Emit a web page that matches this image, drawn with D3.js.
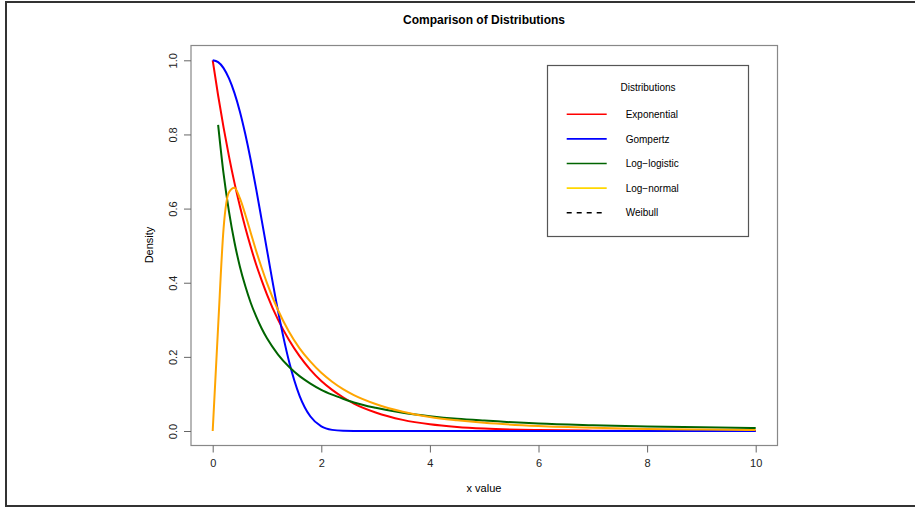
<!DOCTYPE html>
<html>
<head>
<meta charset="utf-8">
<script src="https://cdn.jsdelivr.net/npm/d3@7"></script>
<style>
  body { margin: 0; background: #fff; }
  svg { font-family: "Liberation Sans", Arial, sans-serif; }
</style>
</head>
<body>
<svg id="chart" width="915" height="507"></svg>
<script>
// x grid the densities were read at
var xValues = [0, 0.1, 0.2, 0.3, 0.4, 0.5, 0.6, 0.7, 0.8, 0.9, 1.0, 1.2, 1.4, 1.6, 1.8, 2.0, 2.2, 2.4, 2.6, 3.0, 3.5, 4, 4.5, 5, 6, 7, 8, 9, 10];

var exponential = [1, 0.905, 0.819, 0.741, 0.670, 0.607, 0.549, 0.497, 0.449, 0.407, 0.368, 0.301, 0.247, 0.202, 0.165, 0.135, 0.111, 0.091, 0.074, 0.050, 0.030, 0.018, 0.011, 0.0067, 0.0025, 0.0009, 0.0003, 0.0001, 0.00005];
var gompertz = [1, 0.995, 0.979, 0.951, 0.912, 0.862, 0.801, 0.731, 0.653, 0.571, 0.488, 0.326, 0.191, 0.095, 0.039, 0.0124, 0.003, 0.0005, 0.00005, 0, 0, 0, 0, 0, 0, 0, 0, 0, 0];
var logLogistic = [null, 0.826, 0.694, 0.592, 0.510, 0.444, 0.391, 0.346, 0.309, 0.277, 0.250, 0.207, 0.174, 0.148, 0.128, 0.111, 0.098, 0.087, 0.077, 0.0625, 0.049, 0.040, 0.033, 0.028, 0.020, 0.0156, 0.0123, 0.010, 0.0083];
var logNormal = [0, 0.282, 0.546, 0.644, 0.656, 0.628, 0.584, 0.535, 0.486, 0.441, 0.399, 0.327, 0.269, 0.223, 0.187, 0.157, 0.133, 0.113, 0.097, 0.073, 0.052, 0.038, 0.029, 0.022, 0.0134, 0.0086, 0.0057, 0.004, 0.0028];

var xTicks = [0, 2, 4, 6, 8, 10];
var yTicks = [0, 0.2, 0.4, 0.6, 0.8, 1.0];

var legendNames = ["Exponential", "Gompertz", "Log\u2212logistic", "Log\u2212normal", "Weibull"];
var legendColors = ["#ff0000", "#0000ff", "#006400", "#ffd700", "#000000"];

var series = [
    { values: exponential, color: "#ff0000" },
    { values: gompertz, color: "#0000ff" },
    { values: logLogistic, color: "#006400" },
    { values: logNormal, color: "#ffa500" }
];

var svg = d3.select("#chart");

// outer frame (top, left, bottom)
svg.append("path")
    .attr("d", "M915,2 H6 V506 H915")
    .attr("fill", "none")
    .attr("stroke", "#333")
    .attr("stroke-width", 2);

var box = { left: 191, right: 777.5, top: 45.5, bottom: 445.5 };

var x = d3.scaleLinear().domain([0, 10]).range([212.7, 755.7]);
var y = d3.scaleLinear().domain([0, 1]).range([431, 60.3]);

svg.append("rect")
    .attr("x", box.left)
    .attr("y", box.top)
    .attr("width", box.right - box.left)
    .attr("height", box.bottom - box.top)
    .attr("fill", "none")
    .attr("stroke", "#888")
    .attr("stroke-width", 1.2);

var xAxis = svg.append("g")
    .attr("transform", "translate(0," + box.bottom + ")")
    .call(d3.axisBottom(x).tickValues(xTicks).tickSize(7).tickPadding(7).tickFormat(d3.format("d")));
xAxis.select(".domain").remove();
xAxis.selectAll("line").attr("stroke", "#666");
xAxis.selectAll("text").attr("font-size", 11).attr("fill", "#222")
    .attr("font-family", "Liberation Sans, Arial, sans-serif");

var yAxis = svg.append("g")
    .attr("transform", "translate(" + box.left + ",0)")
    .call(d3.axisLeft(y).tickValues(yTicks).tickSize(7).tickFormat(d3.format(".1f")));
yAxis.select(".domain").remove();
yAxis.selectAll("line").attr("stroke", "#666");
yAxis.selectAll("text")
    .attr("font-size", 11).attr("fill", "#222")
    .attr("font-family", "Liberation Sans, Arial, sans-serif")
    .attr("x", null).attr("dy", null)
    .attr("text-anchor", "middle")
    .attr("transform", "translate(-14,0) rotate(-90)");

// curves
var line = d3.line()
    .defined(function(d) { return d[1] !== null; })
    .x(function(d) { return x(d[0]); })
    .y(function(d) { return y(d[1]); })
    .curve(d3.curveMonotoneX);

series.forEach(function(s) {
    var pts = xValues.map(function(v, i) { return [v, s.values[i]]; });
    svg.append("path")
        .datum(pts)
        .attr("d", line)
        .attr("fill", "none")
        .attr("stroke", s.color)
        .attr("stroke-width", 2)
        .attr("stroke-linejoin", "round");
});

// titles
svg.append("text")
    .attr("x", 484).attr("y", 24)
    .attr("text-anchor", "middle")
    .attr("font-size", 12).attr("font-weight", "bold")
    .text("Comparison of Distributions");

svg.append("text")
    .attr("x", 484).attr("y", 492)
    .attr("text-anchor", "middle")
    .attr("font-size", 11)
    .text("x value");

svg.append("text")
    .attr("transform", "translate(153,245) rotate(-90)")
    .attr("text-anchor", "middle")
    .attr("font-size", 11)
    .text("Density");

// legend
var legend = svg.append("g");
legend.append("rect")
    .attr("x", 547.5).attr("y", 65.5)
    .attr("width", 201).attr("height", 171)
    .attr("fill", "#fff")
    .attr("stroke", "#555")
    .attr("stroke-width", 1.2);

legend.append("text")
    .attr("x", 648).attr("y", 90.5)
    .attr("text-anchor", "middle")
    .attr("font-size", 10)
    .text("Distributions");

legendNames.forEach(function(name, i) {
    var ly = 114.3 + i * 24.6;
    legend.append("line")
        .attr("x1", 566.7).attr("x2", 606.7)
        .attr("y1", ly).attr("y2", ly)
        .attr("stroke", legendColors[i])
        .attr("stroke-width", 1.6)
        .attr("stroke-dasharray", name === "Weibull" ? "5,5" : null);
    legend.append("text")
        .attr("x", 625.7).attr("y", ly + 3.6)
        .attr("font-size", 10)
        .text(name);
});
</script>
</body>
</html>
